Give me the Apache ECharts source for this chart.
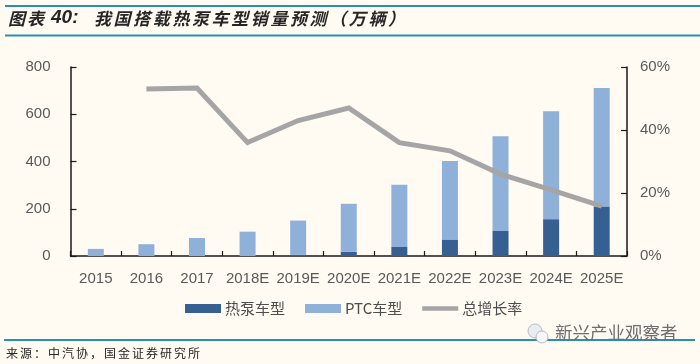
<!DOCTYPE html>
<html><head><meta charset="utf-8">
<style>html,body{margin:0;padding:0;background:#fffbf2}#c{width:700px;height:364px}</style>
<script src="https://cdn.jsdelivr.net/npm/echarts@6/dist/echarts.min.js"></script>
</head><body><div id="c"></div>
<script>
const categories=['2015','2016','2017','2018E','2019E','2020E','2021E','2022E','2023E','2024E','2025E'];
const heatPump=[0,0,0,0,5,18,38,70,106,156,210];
const ptc=[30,50,76,103,145,203,264,332,401,457,501];
const growth=[null,53,53.3,36,43,47,36,33.4,26,21,15.8];
const leftTicks=[0,200,400,600,800];
const titleLabel='图表';
const titleNumber='40:';
const titleBody='我国搭载热泵车型销量预测（万辆）';
const sourceText='来源：中汽协，国金证券研究所';
const watermark='新兴产业观察者';

const gray='#595959', axis='#1a1a1a', teal='#2b8fb0';
const chart=echarts.init(document.getElementById('c'),null,{renderer:'canvas'});
const rule=(y,x1,x2,w)=>({type:'line',shape:{x1:x1,y1:y,x2:x2,y2:y},style:{stroke:teal,lineWidth:w}});
const spaced=(s,x,y,pitch,font,fill)=>Array.from(s).map((ch,i)=>({type:'text',x:x+i*pitch,y:y,style:{text:ch,fill:fill,font:font}}));
const titleFont='italic bold 17px "Noto Sans CJK SC",sans-serif';
chart.setOption({
  backgroundColor:'#fffbf2',
  animation:false,
  grid:{left:70.5,right:73,top:67,bottom:108,containLabel:false},
  legend:{left:180,top:296,itemWidth:36,itemHeight:9,itemGap:20,
    textStyle:{color:'#4d4d4d',fontSize:15,fontFamily:'"Noto Sans CJK SC","Liberation Sans",sans-serif',padding:[0,0,0,-1]},
    data:[{name:'热泵车型',icon:'rect'},{name:'PTC车型',icon:'rect'},
      {name:'总增长率',icon:'path://M0 0H400V0.1H0Z M0 25H400V75H0Z M0 99.9H400V100H0Z'}]},
  xAxis:{type:'category',data:categories,
    axisLine:{lineStyle:{color:axis,width:1.5}},
    axisTick:{show:true,inside:true,length:5,lineStyle:{color:axis,width:1.2}},
    axisLabel:{color:gray,fontSize:15,fontFamily:'"Liberation Sans",sans-serif',margin:15,interval:0}},
  yAxis:[
    {type:'value',min:leftTicks[0],max:leftTicks[leftTicks.length-1],interval:200,splitLine:{show:false},
     axisLine:{show:true,lineStyle:{color:axis,width:1.5}},
     axisTick:{show:true,inside:true,length:6,lineStyle:{color:axis,width:1.2}},
     axisLabel:{color:gray,fontSize:15,fontFamily:'"Liberation Sans",sans-serif',margin:20}},
    {type:'value',min:0,max:60,interval:20,position:'right',splitLine:{show:false},
     axisLine:{show:true,lineStyle:{color:axis,width:1.5}},
     axisTick:{show:true,inside:true,length:6,lineStyle:{color:axis,width:1.2}},
     axisLabel:{color:gray,fontSize:15,fontFamily:'"Liberation Sans",sans-serif',margin:13,formatter:'{value}%'}}
  ],
  series:[
    {name:'热泵车型',type:'bar',stack:'t',data:heatPump,barWidth:16,itemStyle:{color:'#366092'}},
    {name:'PTC车型',type:'bar',stack:'t',data:ptc,barWidth:16,itemStyle:{color:'#8eb0d9'}},
    {name:'总增长率',type:'line',yAxisIndex:1,data:growth,symbol:'none',connectNulls:false,
     lineStyle:{color:'#a5a5a5',width:5,join:'miter',cap:'butt'},itemStyle:{color:'#a5a5a5'}}
  ],
  graphic:[
    rule(6,5,700,2), rule(35.5,5,700,2), rule(340,4,695,2),
    ...spaced(titleLabel,8,10,19,titleFont,'#262626'),
    {type:'text',x:51,y:8,style:{text:titleNumber,fill:'#262626',font:'italic bold 19px "Liberation Sans",sans-serif'}},
    ...spaced(titleBody,94,10,19.6,titleFont,'#262626'),
    ...spaced(sourceText,6,347,14,'12px "Noto Sans CJK SC",sans-serif','#262626'),
    {type:'text',x:555,y:324,style:{text:watermark,fill:'#6e6e6e',font:'17.5px "Noto Sans CJK SC",sans-serif'}},
    {type:'circle',shape:{cx:535,cy:331,r:7},style:{fill:'#e9edf2',stroke:'#b5bcc5',lineWidth:1}},
    {type:'circle',shape:{cx:542,cy:337,r:6},style:{fill:'#f4f6f8',stroke:'#b5bcc5',lineWidth:1}}
  ]
});
</script></body></html>
